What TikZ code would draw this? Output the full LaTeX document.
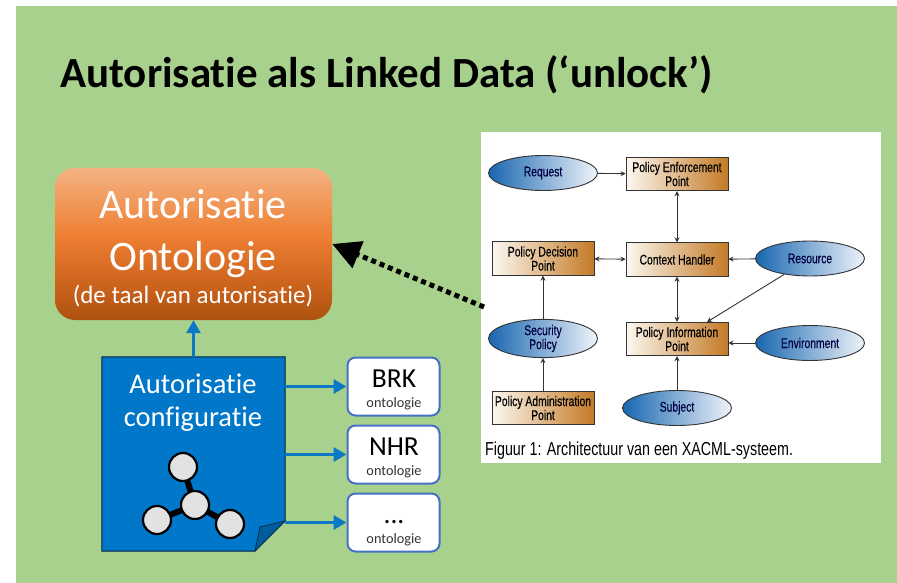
\documentclass[tikz,border=0pt]{standalone}
\usepackage{fontspec}
\setmainfont[Ligatures=NoCommon]{Carlito}
\newfontfamily\figfont[FakeStretch=0.74,FakeBold=0.35]{Liberation Sans}
\newfontfamily\capfont[FakeStretch=0.76]{Liberation Sans}
\usetikzlibrary{arrows.meta,shapes.geometric}
\definecolor{slidegreen}{HTML}{A9D18E}
\definecolor{docblue}{HTML}{0077C8}
\definecolor{folddark}{HTML}{005E9E}
\definecolor{smallborder}{HTML}{4472C4}
\definecolor{linkblue}{HTML}{0B78C4}
\definecolor{ballgrey}{HTML}{E2E2E2}
\definecolor{pointleft}{HTML}{FCF8F0}
\definecolor{pointright}{HTML}{C47A26}
\definecolor{actorleft}{HTML}{1866B0}
\definecolor{actorright}{HTML}{F0F4FA}
\pgfdeclareverticalshading{ontologyfill}{100bp}{
  rgb(0bp)=(0.68,0.32,0.06);
  rgb(25bp)=(0.68,0.32,0.06);
  rgb(40bp)=(0.83,0.41,0.13);
  rgb(53bp)=(0.93,0.50,0.20);
  rgb(75bp)=(0.96,0.70,0.51);
  rgb(100bp)=(0.96,0.70,0.51)}
\tikzset{
  ontobox/.style={rounded corners=20pt,minimum width=277pt,minimum height=152pt,
    shading=ontologyfill,inner sep=0pt},
  docbox/.style={minimum width=183pt,minimum height=194pt,inner sep=0pt},
  smallbox/.style={draw=smallborder,line width=2pt,fill=white,rounded corners=8pt,
    minimum width=92pt,minimum height=58pt,inner sep=0pt},
  pointbox/.style={draw=black!80,line width=0.9pt,left color=pointleft,right color=pointright,
    minimum width=102pt,minimum height=33.5pt,inner sep=0pt,align=center,
    font=\figfont\fontsize{14}{14}\selectfont},
  actor/.style={ellipse,draw=black!80,line width=0.9pt,left color=actorleft,right color=actorright,
    minimum width=109pt,minimum height=35pt,inner sep=0pt,align=center,text=blue!25!black,
    font=\figfont\fontsize{14}{14}\selectfont},
  ball/.style={circle,draw=black,line width=2.2pt,fill=ballgrey,minimum size=28pt,inner sep=0pt},
  figline/.style={black!80,line width=0.9pt},
  onearrow/.style={figline,-{Stealth[length=5pt,width=5pt]}},
  twoarrow/.style={figline,{Stealth[length=5pt,width=5pt]}-{Stealth[length=5pt,width=5pt]}},
  bluearrow/.style={linkblue,line width=3pt,-{Triangle[length=13pt,width=14pt]}}
}
\begin{document}
\begin{tikzpicture}[x=1pt,y=-1pt]
  \useasboundingbox (0,0) rectangle (897,583);
  \fill[white] (0,0) rectangle (897,583);
  \fill[slidegreen] (16,6) rectangle (897,583);
  % title
  \node[anchor=base west,inner sep=0pt,font=\bfseries\fontsize{43}{48}\selectfont] (title) at (60,88) {Autorisatie als Linked Data (‘unlock’)};
  % left part
  \node[ontobox] (onto) at (193.5,244) {};
  \node[text=white,font=\fontsize{42}{48}\selectfont] (ontoa) at (193,204) {Autorisatie};
  \node[text=white,font=\fontsize{42}{48}\selectfont] (ontob) at (193,260) {Ontologie};
  \node[text=white,font=\fontsize{25}{30}\selectfont] (ontoc) at (193,296) {(de taal van autorisatie)};
  \node[docbox] (doc) at (193.5,454) {};
  \coordinate (fold) at (260,527);
  \fill[docblue,draw=black!70!docblue,line width=1pt] (doc.north west) -- (doc.north east) -- (285,521) -- (255,551) -- (doc.south west) -- cycle;
  \fill[folddark,draw=black!60!docblue,line width=0.8pt] (285,521) -- (fold) -- (255,551) -- cycle;
  \node[text=white,font=\fontsize{28.5}{34}\selectfont] (cfga) at (193,384) {Autorisatie};
  \node[text=white,font=\fontsize{28.5}{34}\selectfont] (cfgb) at (193,419) {configuratie};
  % small graph
  \draw[black,line width=6pt] (195,505) coordinate (c) -- (183,467) coordinate (t) (c) -- (157,520) coordinate (l) (c) -- (230,524) coordinate (r);
  \node[ball] (ballc) at (c) {};
  \node[ball] (ballt) at (t) {};
  \node[ball] (balll) at (l) {};
  \node[ball] (ballr) at (r) {};
  \node[smallbox] (brk) at (393.5,386.5) {};
  \node[smallbox] (nhr) at (393.5,454.5) {};
  \node[smallbox] (dots) at (393.5,522.5) {};
  \node[font=\fontsize{27.5}{32}\selectfont] (brka) at (394,379) {BRK};
  \node[font=\fontsize{27.5}{32}\selectfont] (nhra) at (394,447) {NHR};
  \node[font=\fontsize{27.5}{32}\selectfont] (dotsa) at (394,522) {...};
  \node[text=black!80,font=\fontsize{14.3}{17}\selectfont] (brkb) at (394,404) {ontologie};
  \node[text=black!80,font=\fontsize{14.3}{17}\selectfont] (nhrb) at (394,472) {ontologie};
  \node[text=black!80,font=\fontsize{14.3}{17}\selectfont] (dotsb) at (394,540) {ontologie};
  % connectors
  \draw[bluearrow] (doc.north) -- (onto.south);
  \draw[bluearrow] (doc.east |- brk) -- (brk);
  \draw[bluearrow] (doc.east |- nhr) -- (nhr);
  \draw[bluearrow] (doc.east |- dots) -- (dots);
  % right part
  \node[fill=white,minimum width=400pt,minimum height=331pt,inner sep=0pt] (figure) at (681,297.5) {};
  \node[pointbox] (pep) at (677,174) {Policy Enforcement\\Point};
  \node[pointbox] (ctx) at (677,259.5) {Context Handler};
  \node[pointbox] (pdp) at (543,258.5) {Policy Decision\\Point};
  \node[pointbox] (pip) at (677,339) {Policy Information\\Point};
  \node[pointbox] (pap) at (543,408) {Policy Administration\\Point};
  \node[actor] (request) at (543,173) {Request};
  \node[actor] (security) at (543,338.5) {Security\\Policy};
  \node[actor] (subject) at (677,408) {Subject};
  \node[actor] (resource) at (810,258.5) {Resource};
  \node[actor] (environment) at (810,343) {Environment};
  \draw[onearrow] (request) -- (pep);
  \draw[twoarrow] (pep) -- (ctx);
  \draw[twoarrow] (pdp) -- (ctx);
  \draw[twoarrow] (ctx) -- (pip);
  \draw[onearrow] (resource) -- (ctx);
  \coordinate (piptop) at (707,322);
  \draw[onearrow] (resource) -- (piptop);
  \draw[onearrow] (environment.west) -- (environment.west -| pip.east);
  \draw[onearrow] (subject) -- (pip);
  \draw[onearrow] (security) -- (pdp);
  \draw[onearrow] (pap) -- (security);
  \node[anchor=base west,inner sep=0pt,font=\capfont\fontsize{18.8}{22}\selectfont] (caption) at (485,455) {Figuur 1: Architectuur van een XACML-systeem.};
  % dotted arrow
  \coordinate (dotstart) at (484,307);
  \draw[black,line width=5pt,dash pattern=on 5pt off 4pt,-{Triangle[length=28pt,width=28pt]}] (dotstart) -- (onto.east |- 0,244);
\end{tikzpicture}
\end{document}
